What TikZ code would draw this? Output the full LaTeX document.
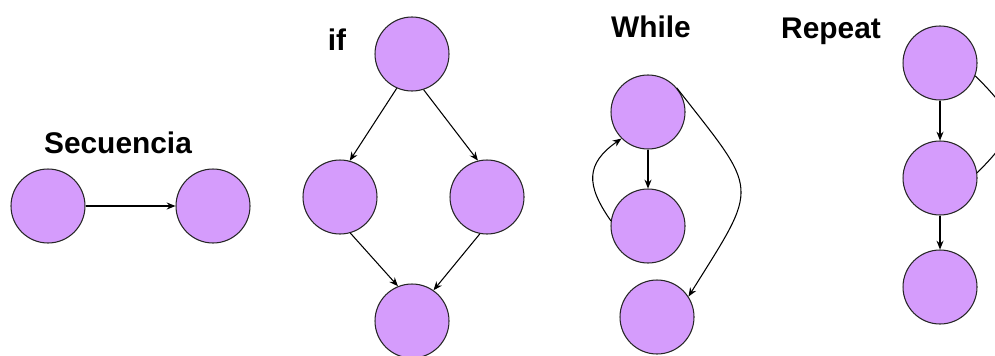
\documentclass[tikz,border=0pt]{standalone}
\usepackage{fontspec}
\setsansfont{Liberation Sans}
\usetikzlibrary{arrows.meta,positioning}
\definecolor{blockfill}{RGB}{213,156,252}

\begin{document}
\begin{tikzpicture}[>={Stealth[length=5pt,width=4pt]}, on grid, line width=0.6pt,
block/.style={circle, draw=black!85, fill=blockfill, minimum size=1.48cm, inner sep=0pt},
title/.style={font=\sffamily\bfseries\fontsize{17}{20}\selectfont, anchor=base}]
  \clip (0,0) rectangle (19.9,-7.1);
  % Secuencia
  \node[block] (S1) at (0.96,-4.12) {};
  \node[block] (S2) [right=3.3cm of S1] {};
  \node[title] (SEQ) at (2.36,-3.06) {Secuencia};
  \draw[->] (S1) -- (S2);
  % if
  \node[block] (IF1) at (8.24,-1.08) {};
  \node[block] (IF2) [below left=2.86cm and 1.44cm of IF1] {};
  \node[block] (IF3) [below right=2.86cm and 1.5cm of IF1] {};
  \node[block] (IF4) [below=5.34cm of IF1] {};
  \node[title] (IF) at (6.74,-1.0) {if};
  \path[->]
    (IF1.246) edge (IF2.75)
    (IF1.-72) edge (IF3.104)
    (IF2.-74) edge (IF4.112)
    (IF3.-101) edge (IF4.55);
  % While
  \node[block] (W1) at (12.96,-2.24) {};
  \node[block] (W2) [below=2.28cm of W1] {};
  \node[block] (W3) [below=4.1cm of W1, xshift=0.18cm] {};
  \node[title] (WHILE) at (13.02,-0.74) {While};
  \path[->]
    (W1) edge (W2)
    (W2.172) edge[out=125, in=215, looseness=1.35] (W1.225)
    (W1.40) edge[out=-52, in=58, looseness=1.65] (W3.33);
  % Repeat
  \node[block] (R1) at (18.8,-1.26) {};
  \node[block] (R2) [below=2.3cm of R1] {};
  \node[block] (R3) [below=4.48cm of R1] {};
  \node[title] (REPEAT) at (16.62,-0.78) {Repeat};
  \path[->]
    (R1) edge (R2)
    (R2) edge (R3);
  \draw (R2.8) to[out=45, in=-45, looseness=1.6] (R1.-20);
\end{tikzpicture}
\end{document}
